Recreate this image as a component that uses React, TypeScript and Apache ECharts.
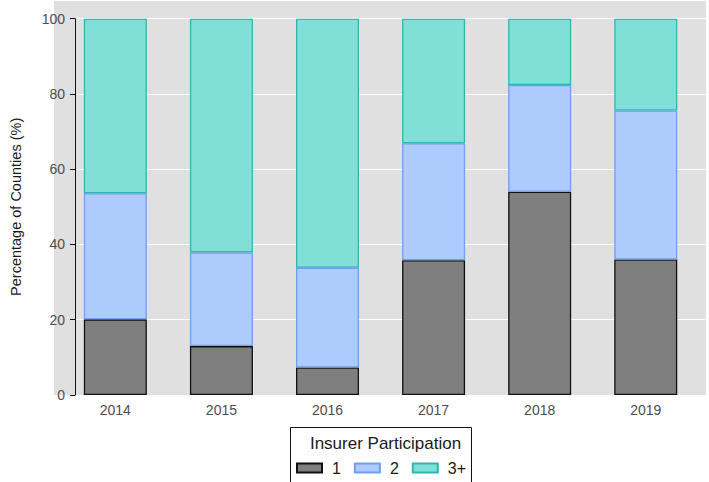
import React, { useEffect, useRef } from "react";
import * as echarts from "echarts";

const years = ["2014", "2015", "2016", "2017", "2018", "2019"];
const one = [20.1, 13.0, 7.3, 35.8, 54.0, 36.0];
const two = [33.5, 24.9, 26.5, 31.1, 28.4, 39.6];
const threePlus = [46.4, 62.1, 66.2, 33.1, 17.6, 24.4];
const seriesNames = ["1", "2", "3+"];
const yTicks = [0, 20, 40, 60, 80, 100];

const FONT = "Liberation Sans, Arial, Helvetica, sans-serif";

export default function App() {
  const ref = useRef<HTMLDivElement>(null);
  useEffect(() => {
    if (!ref.current) return;
    const chart = echarts.init(ref.current, undefined, { renderer: "svg" });
    const fills = ["#7f7f7f", "#adcbfd", "#80e0d8"];
    const borders = ["#111111", "#6f9ff0", "#2fb7af"];
    const data = [one, two, threePlus];
    chart.setOption({
      animation: false,
      backgroundColor: "#ffffff",
      textStyle: { fontFamily: FONT },
      title: {
        text: "Insurer Participation",
        left: 380.5,
        textAlign: "center",
        top: 430,
        textStyle: { fontFamily: FONT, fontSize: 17, fontWeight: "normal", color: "#1a1a1a" },
      },
      graphic: [
        {
          type: "rect",
          z: -10,
          silent: true,
          shape: { x: 54, y: 1, width: 652, height: 394 },
          style: { fill: "#e0e0e0" },
        },
        {
          type: "rect",
          silent: true,
          shape: { x: 290.5, y: 427.5, width: 181, height: 60 },
          style: { fill: "#ffffff", stroke: "#111111", lineWidth: 1 },
        },
      ],
      legend: {
        left: 291,
        top: 455,
        itemWidth: 25,
        itemHeight: 9,
        itemGap: 13,
        icon: "rect",
        data: seriesNames,
        textStyle: { fontFamily: FONT, fontSize: 16, color: "#1a1a1a", padding: [0, 0, 0, 5] },
      },
      grid: [
        { left: 54, right: 3, top: 18.7, bottom: 87, containLabel: false },
        { left: 62.3, right: 10.2, top: 18.7, bottom: 87, containLabel: false },
      ],
      xAxis: [
        { type: "category", gridIndex: 0, data: years, show: false },
        {
          type: "category",
          gridIndex: 1,
          data: years,
          axisLine: { show: false },
          axisTick: { show: false },
          axisLabel: { fontFamily: FONT, fontSize: 14, color: "#4d4d4d", margin: 8 },
        },
      ],
      yAxis: [
        {
          type: "value",
          gridIndex: 0,
          min: 0,
          max: 100,
          interval: 20,
          name: "Percentage of Counties (%)",
          nameLocation: "middle",
          nameGap: 52,
          nameTextStyle: { fontFamily: FONT, fontSize: 14.5, color: "#1a1a1a" },
          axisLine: { show: true, lineStyle: { color: "#111111", width: 1 } },
          axisTick: { show: true, length: 5, lineStyle: { color: "#111111" } },
          axisLabel: { fontFamily: FONT, fontSize: 14, color: "#4d4d4d", margin: 10, customValues: yTicks },
          splitLine: { show: true, lineStyle: { color: "#ffffff", width: 1.2 } },
        },
        {
          type: "value",
          gridIndex: 1,
          min: 0,
          max: 100,
          interval: 20,
          show: false,
          splitLine: { show: false },
        },
      ],
      series: data.map((d, i) => ({
        name: seriesNames[i],
        type: "bar",
        xAxisIndex: 1,
        yAxisIndex: 1,
        stack: "total",
        barWidth: 63,
        data: d,
        itemStyle: { color: fills[i], borderColor: borders[i], borderWidth: 1.3 },
      })),
    });
    return () => chart.dispose();
  }, []);
  return <div ref={ref} style={{ width: 709, height: 482, position: "absolute", left: 0, top: 0 }} />;
}
